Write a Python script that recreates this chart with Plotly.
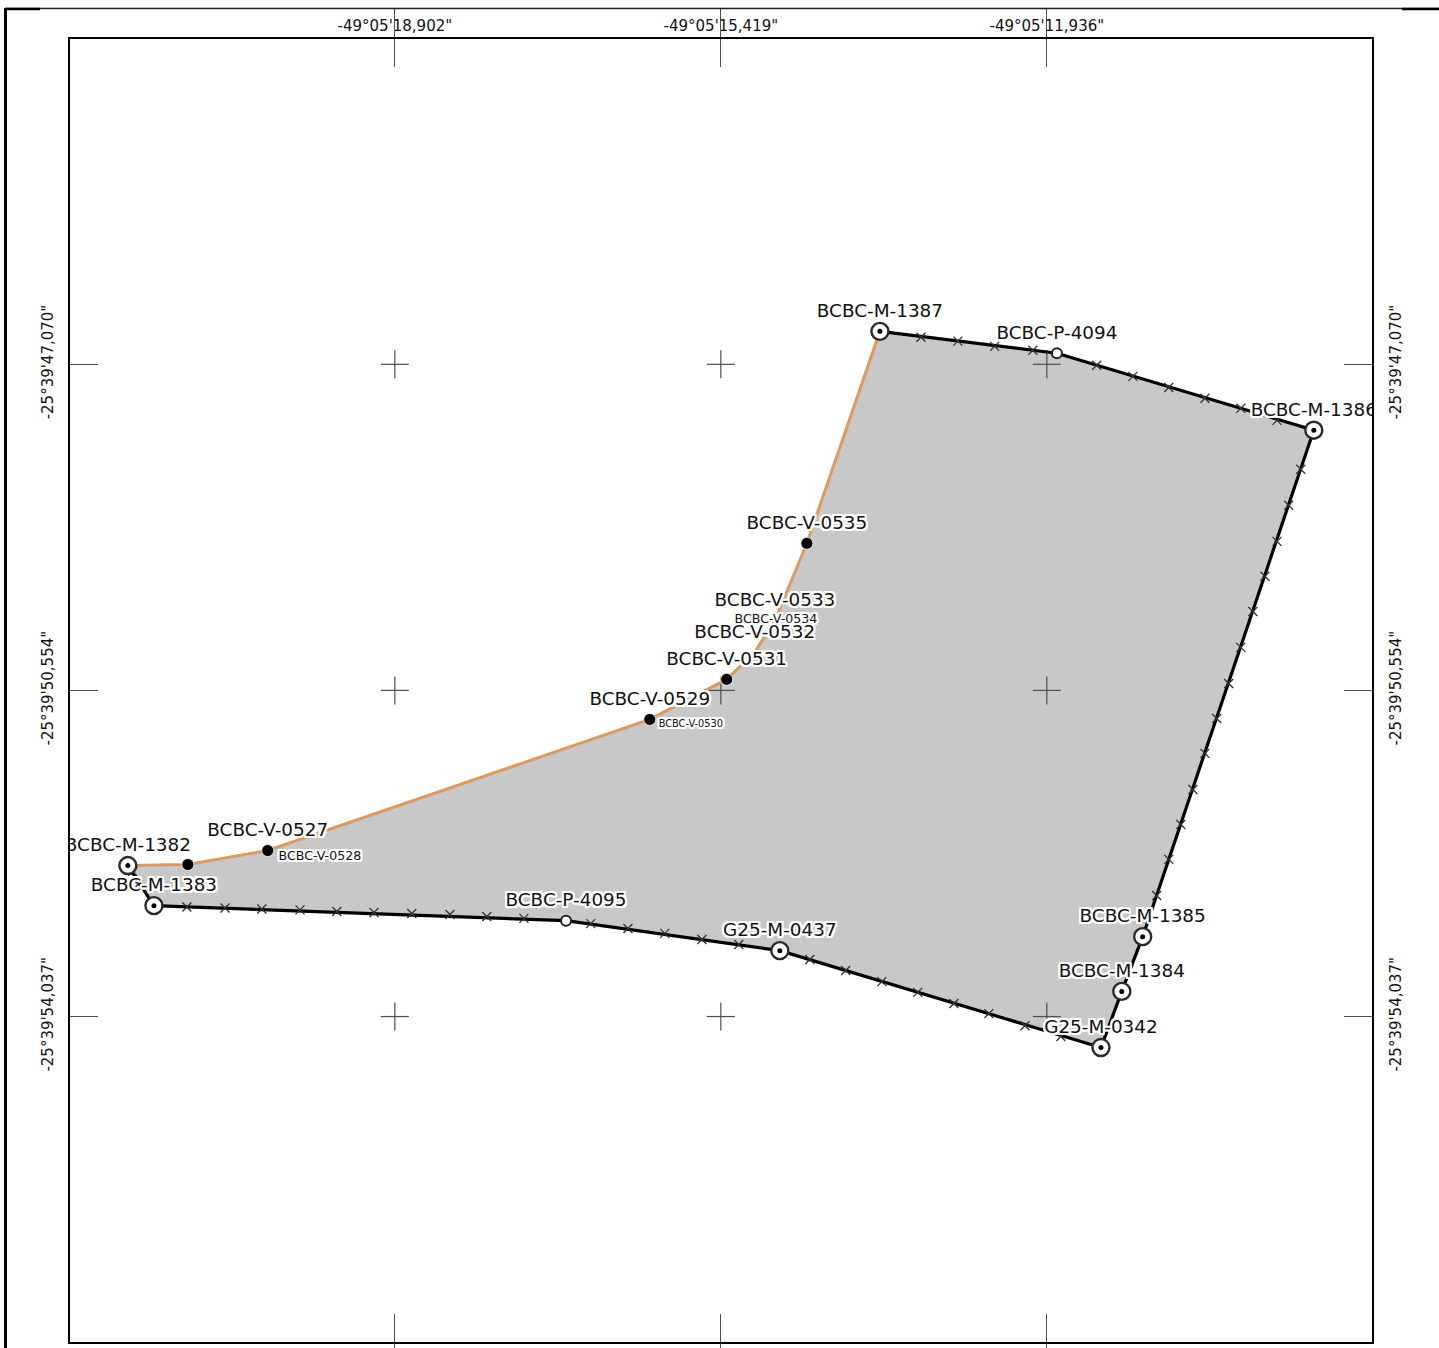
import plotly.graph_objects as go

# Local map grid in metres: crosses every 100 m
grid_e = [0, 100, 200]
grid_n = [0, 100, 200]
lon_labels = ['-49°05\'18,902"', '-49°05\'15,419"', '-49°05\'11,936"']
lat_labels = ['-25°39\'54,037"', '-25°39\'50,554"', '-25°39\'47,070"']

# Monuments (M)
m_names = ["BCBC-M-1387", "BCBC-M-1386", "BCBC-M-1385", "BCBC-M-1384", "G25-M-0342",
           "G25-M-0437", "BCBC-M-1383", "BCBC-M-1382"]
m_e = [148.8, 281.9, 229.4, 223.0, 216.6, 118.1, -73.9, -81.9]
m_n = [210.1, 179.8, 24.5, 7.7, -9.5, 20.2, 34.0, 46.3]

# Points (P)
p_names = ["BCBC-P-4094", "BCBC-P-4095"]
p_e = [203.1, 52.5]
p_n = [203.4, 29.4]

# Virtual vertices (V) that show a dot
v_names = ["BCBC-V-0527", "BCBC-V-0529", "BCBC-V-0531", "BCBC-V-0535"]
v_e = [-39.0, 78.2, 101.8, 126.4]
v_n = [50.9, 91.1, 103.4, 145.1]
extra_dot_e = [-63.5]
extra_dot_n = [46.6]

# V vertices whose dots are covered by labels
hidden_names = ["BCBC-V-0532", "BCBC-V-0533"]
hidden_e = [110.4, 116.6]
hidden_n = [111.7, 121.5]

# Small labels
small_names = ["BCBC-V-0528", "BCBC-V-0534"]
small_e = [-23.0, 116.9]
small_n = [49.0, 121.7]
tiny_names = ["BCBC-V-0530"]
tiny_e = [90.8]
tiny_n = [89.5]

# Boundary: natural (orange) from M-1382 to M-1387
orange_e = [-81.9, -63.5, -39.0, 78.2, 101.8, 110.4, 116.6, 126.4, 148.8]
orange_n = [46.3, 46.6, 50.9, 91.1, 103.4, 111.7, 121.5, 145.1, 210.1]
# Boundary: surveyed (black) from M-1387 round to M-1382
black_e = [148.8, 203.1, 281.9, 229.4, 223.0, 216.6, 118.1, 52.5, -73.9, -81.9]
black_n = [210.1, 203.4, 179.8, 24.5, 7.7, -9.5, 20.2, 29.4, 34.0, 46.3]

# Small crosses along the surveyed boundary
x_e = [-63.8, -52.1, -40.8, -29.1, -17.8, -6.4, 5.2, 16.9, 28.2, 39.6,
       60.1, 71.5, 82.8, 94.2, 105.5,
       127.3, 138.3, 149.4, 160.4, 171.5, 182.2, 193.3, 204.3,
       161.4, 172.7, 184.0, 195.7,
       215.3, 226.4, 237.4, 248.5, 259.5, 270.6,
       277.9, 274.2, 270.6, 266.9, 263.2, 259.5, 255.8, 252.1, 248.5, 244.8, 241.1, 237.4, 233.7,
       -80.4, -78.8]
x_n = [33.6, 33.3, 33.0, 32.7, 32.2, 31.9, 31.6, 31.3, 30.7, 30.1,
       28.5, 27.0, 25.5, 23.6, 22.1,
       17.5, 14.1, 10.7, 7.4, 4.0, 0.9, -2.8, -6.1,
       208.3, 207.1, 205.5, 204.3,
       199.7, 196.3, 192.9, 189.6, 186.5, 182.8,
       167.8, 156.8, 145.7, 135.0, 124.2, 113.2, 102.1, 91.4, 80.7, 69.6, 58.9, 48.2, 37.1,
       44.5, 40.5]

# ---- layout constants
W, H = 1439, 1348
L, R, T, B = 70, 1372, 39, 1342
FONT = "DejaVu Sans"
HALO = ",".join(f"{a}px {b}px 0.5px white" for a in (-2, -1, 0, 1, 2) for b in (-2, -1, 0, 1, 2))
ARM = 14 / 3.26        # half length of a grid cross, metres
LABEL_UP = 19.2 / 3.26  # big label centre above its point, metres
AX_X = [-99.65, 299.75]
AX_Y = [-99.8, 299.75]


def px(x):
    return (x - L) / (R - L)


def py(y):
    return (B - y) / (B - T)


fig = go.Figure()

fig.add_trace(go.Scatter(x=orange_e + black_e[1:-1], y=orange_n + black_n[1:-1], mode="lines",
                         fill="toself", fillcolor="#c8c8c8", line=dict(width=0),
                         hoverinfo="skip", showlegend=False))

cx, cy = [], []
for e in grid_e:
    for n in grid_n:
        cx += [e - ARM, e + ARM, None, e, e, None]
        cy += [n, n, None, n - ARM, n + ARM, None]
fig.add_trace(go.Scatter(x=cx, y=cy, mode="lines", line=dict(color="#4d4d4d", width=1.2),
                         hoverinfo="skip", showlegend=False))

fig.add_trace(go.Scatter(x=orange_e, y=orange_n, mode="lines",
                         line=dict(color="#dc9a5c", width=3), showlegend=False))
fig.add_trace(go.Scatter(x=black_e, y=black_n, mode="lines",
                         line=dict(color="#000000", width=3.2), showlegend=False))
fig.add_trace(go.Scatter(x=x_e, y=x_n, mode="markers",
                         marker=dict(symbol="x-thin", size=9, line=dict(color="#333333", width=1.3)),
                         showlegend=False))

fig.add_trace(go.Scatter(x=v_e + extra_dot_e, y=v_n + extra_dot_n, mode="markers",
                         marker=dict(color="black", size=12, line=dict(color="white", width=0.8)),
                         showlegend=False))
fig.add_trace(go.Scatter(x=p_e, y=p_n, mode="markers",
                         marker=dict(color="white", size=10, line=dict(color="#222222", width=2)),
                         showlegend=False))
fig.add_trace(go.Scatter(x=m_e, y=m_n, mode="markers",
                         marker=dict(color="white", size=17, line=dict(color="#2a2a2a", width=2.4)),
                         showlegend=False))
fig.add_trace(go.Scatter(x=m_e, y=m_n, mode="markers",
                         marker=dict(color="black", size=5), showlegend=False))

big_names = m_names + p_names + v_names + hidden_names
big_e = m_e + p_e + v_e + hidden_e
big_n = m_n + p_n + v_n + hidden_n
fig.add_trace(go.Scatter(x=big_e, y=[n + LABEL_UP for n in big_n], text=big_names, mode="text",
                         textposition="middle center",
                         textfont=dict(family=FONT, size=18.4, color="#111111", shadow=HALO),
                         hoverinfo="skip", showlegend=False))
fig.add_trace(go.Scatter(x=small_e, y=small_n, text=small_names, mode="text",
                         textposition="middle center",
                         textfont=dict(family=FONT, size=12.6, color="#111111", shadow=HALO),
                         hoverinfo="skip", showlegend=False))
fig.add_trace(go.Scatter(x=tiny_e, y=tiny_n, text=tiny_names, mode="text",
                         textposition="middle center",
                         textfont=dict(family=FONT, size=9.8, color="#111111", shadow=HALO),
                         hoverinfo="skip", showlegend=False))

# Invisible trace so the right-hand latitude axis is drawn
fig.add_trace(go.Scatter(x=grid_e, y=grid_n, yaxis="y2", mode="markers", marker=dict(opacity=0),
                         hoverinfo="skip", showlegend=False))

axis_common = dict(showgrid=False, zeroline=False, showline=True, linecolor="black", linewidth=2,
                   ticks="inside", ticklen=28, tickwidth=1.2, tickcolor="#4d4d4d",
                   tickfont=dict(family=FONT, size=15, color="#111111"))

shapes = [
    dict(type="line", xref="paper", yref="paper", x0=px(5.5), x1=px(5.5), y0=py(H), y1=py(8),
         line=dict(color="black", width=3)),
    dict(type="line", xref="paper", yref="paper", x0=px(5), x1=px(W), y0=py(8.5), y1=py(8.5),
         line=dict(color="#222222", width=1.5)),
    dict(type="line", xref="paper", yref="paper", x0=px(5), x1=px(40), y0=py(9), y1=py(9),
         line=dict(color="black", width=2.5)),
    dict(type="line", xref="paper", yref="paper", x0=px(1402), x1=px(W), y0=py(9), y1=py(9),
         line=dict(color="black", width=2.5)),
]

fig.update_layout(
    width=W, height=H,
    margin=dict(l=L, r=W - R, t=T, b=H - B, pad=0, autoexpand=False),
    paper_bgcolor="white", plot_bgcolor="white", showlegend=False,
    font=dict(family=FONT),
    shapes=shapes,
    xaxis=dict(range=AX_X, side="top", tickvals=grid_e, ticktext=lon_labels,
               mirror="allticks", tickangle=0, **axis_common),
    yaxis=dict(range=AX_Y, tickvals=grid_n, ticktext=lat_labels, ticklabelstandoff=9,
               mirror="allticks", tickangle=-90, **axis_common),
    yaxis2=dict(range=AX_Y, tickvals=grid_n, ticktext=lat_labels, overlaying="y", ticklabelstandoff=9,
                side="right", anchor="x", tickangle=-90, **{**axis_common, "ticks": ""}),
)

fig.write_html("out.html", post_script="document.body.style.margin='0';", config={"displayModeBar": False})
